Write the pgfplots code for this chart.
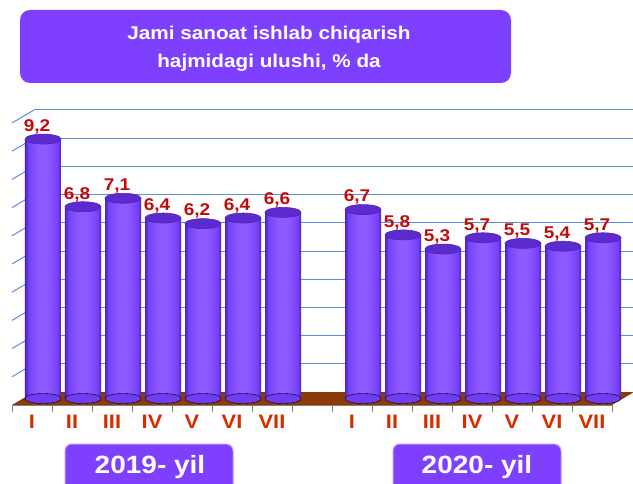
\documentclass[border=0pt]{standalone}
\usepackage{pgfplots}
\pgfplotsset{compat=1.18}
\usepackage{fontspec}
\setmainfont{Liberation Sans}[FakeStretch=1.12]
\definecolor{boxpurple}{RGB}{127,63,255}
\definecolor{boxedge}{RGB}{185,150,255}
\definecolor{barlight}{RGB}{140,90,255}
\definecolor{barmid}{RGB}{118,66,250}
\definecolor{bardark}{RGB}{78,34,190}
\definecolor{capcol}{RGB}{92,42,205}
\definecolor{gridblue}{RGB}{90,142,222}
\definecolor{floorbrown}{RGB}{140,58,8}
\definecolor{valred}{RGB}{195,10,10}
\definecolor{catred}{RGB}{212,45,0}
\pgfdeclarehorizontalshading{cyl}{100bp}{color(0bp)=(bardark); color(25bp)=(bardark); color(30bp)=(barmid); color(44bp)=(barlight); color(56bp)=(barlight); color(70bp)=(barmid); color(75bp)=(bardark); color(100bp)=(bardark)}
\pgfplotsset{
  layer/.style={scale only axis, width=600pt, height=282pt, xmin=-0.5, xmax=14.5, ymin=0, ymax=10, anchor=south west, clip=false},
}
\newcommand{\cylbar}[2]{%
\addplot[ybar, bar width=0.9, bar shift=0pt, draw=none, shade, shading=cyl,
  nodes near coords={\pgfmathprintnumber[fixed,fixed zerofill,precision=1,use comma,assume math mode=true]{\pgfplotspointmeta}},
  every node near coord/.append style={text=valred, font=\bfseries\fontsize{17}{17}\selectfont, xshift=-6pt, yshift=1.5pt}]
coordinates {(#1,#2)};}
\begin{document}
\begin{tikzpicture}
% back wall grid
\begin{axis}[layer, at={(34pt,91pt)}, axis line style={draw=none}, xtick=\empty, ytick={1,...,10}, yticklabels={}, major tick length=0pt, ymajorgrids, grid style={gridblue, line width=1pt}]
\addplot[draw=none] coordinates {(0,0)};
\end{axis}
% floor and side wall
\begin{scope}[x=1pt,y=1pt]
\fill[floorbrown] (12,78) -- (612,78) -- (634,91) -- (34,91) -- cycle;
\foreach \k in {1,...,10} \draw[gridblue, line width=1pt] (12,{78+28.2*\k}) -- (34,{91+28.2*\k});
\end{scope}
% bars
\begin{axis}[layer, at={(23pt,84.5pt)}, hide axis]
\addplot[only marks, mark=*, mark size=5pt, mark options={xscale=3.6, draw=none, fill=barmid!85!bardark}] coordinates {
(0,0) (1,0) (2,0) (3,0) (4,0) (5,0) (6,0) (8,0) (9,0) (10,0) (11,0) (12,0) (13,0) (14,0)};
\cylbar{0}{9.2}
\cylbar{1}{6.8}
\cylbar{2}{7.1}
\cylbar{3}{6.4}
\cylbar{4}{6.2}
\cylbar{5}{6.4}
\cylbar{6}{6.6}
\cylbar{8}{6.7}
\cylbar{9}{5.8}
\cylbar{10}{5.3}
\cylbar{11}{5.7}
\cylbar{12}{5.5}
\cylbar{13}{5.4}
\cylbar{14}{5.7}
\addplot[only marks, mark=*, mark size=5pt, mark options={xscale=3.6, draw=bardark, line width=0.6pt, fill=capcol}] coordinates {
(0,9.2) (1,6.8) (2,7.1) (3,6.4) (4,6.2) (5,6.4) (6,6.6)
(8,6.7) (9,5.8) (10,5.3) (11,5.7) (12,5.5) (13,5.4) (14,5.7)};
\end{axis}
% front axis with category labels
\begin{axis}[layer, at={(12pt,78pt)}, axis x line*=bottom, axis y line=none,
  xtick={-0.5,0.5,1.5,2.5,3.5,4.5,5.5,6.5,7.5,8.5,9.5,10.5,11.5,12.5,13.5,14.5},
  xticklabels={}, tick align=outside, major tick length=7pt,
  axis line style={gray, line width=1pt}, tick style={gray, line width=1pt},
  extra x ticks={0,1,2,3,4,5,6,8,9,10,11,12,13,14},
  extra x tick labels={I,II,III,IV,V,VI,VII,I,II,III,IV,V,VI,VII},
  extra x tick style={major tick length=0pt, tick label style={text=catred, font=\bfseries\fontsize{19.5}{20}\selectfont, yshift=-7pt}}]
\addplot[draw=none] coordinates {(0,0)};
\end{axis}
\begin{scope}[x=1pt,y=1pt]
% title
\fill[boxpurple, rounded corners=10pt] (20,400) rectangle (511,473);
\node[anchor=base, text=white, font=\bfseries\fontsize{18.5}{20}\selectfont, inner sep=0pt] at (269,443) {Jami sanoat ishlab chiqarish};
\node[anchor=base, text=white, font=\bfseries\fontsize{18.5}{20}\selectfont, inner sep=0pt] at (269,415) {hajmidagi ulushi, \% da};
% year boxes
\filldraw[fill=boxpurple, draw=boxedge, line width=1pt, rounded corners=7pt] (65,-12) rectangle (233,39);
\node[anchor=base, text=white, font=\bfseries\fontsize{25}{26}\selectfont, inner sep=0pt] at (150,10) {2019- yil};
\filldraw[fill=boxpurple, draw=boxedge, line width=1pt, rounded corners=7pt] (393,-12) rectangle (561,39);
\node[anchor=base, text=white, font=\bfseries\fontsize{25}{26}\selectfont, inner sep=0pt] at (477,10) {2020- yil};
\pgfresetboundingbox
\path[use as bounding box] (0,0) rectangle (633,483);
\end{scope}
\end{tikzpicture}
\end{document}
